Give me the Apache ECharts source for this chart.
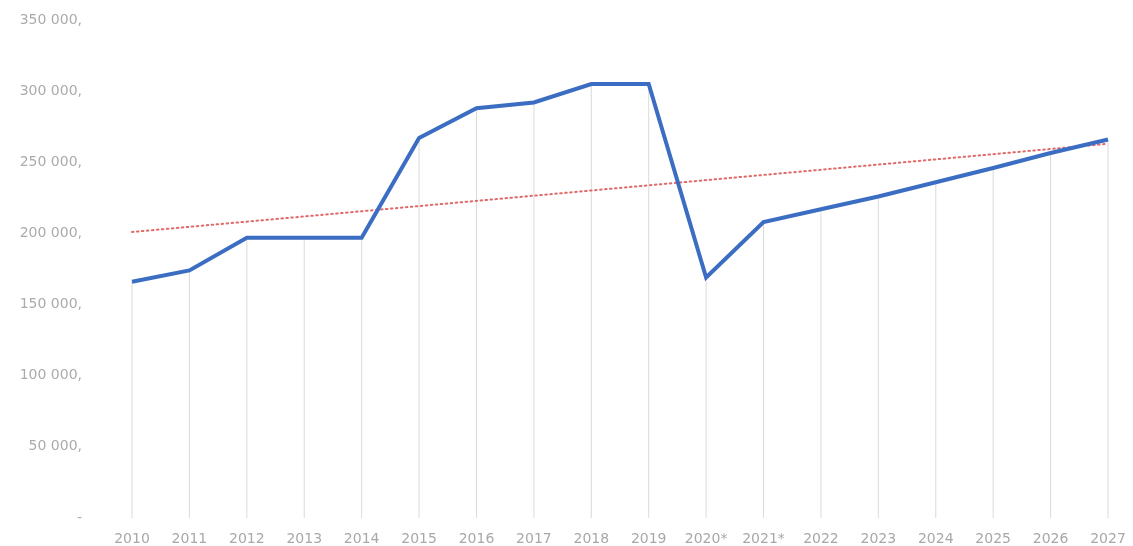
<!DOCTYPE html>
<html>
<head>
<meta charset="utf-8">
<script src="https://cdn.jsdelivr.net/npm/echarts@6/dist/echarts.min.js"></script>
<style>
  html, body { margin: 0; padding: 0; background: #ffffff; }
  #chart { width: 1133px; height: 546px; }
</style>
</head>
<body>
<div id="chart"></div>
<script>
// Years shown along the bottom axis
const years = ['2010', '2011', '2012', '2013', '2014', '2015', '2016', '2017', '2018',
  '2019', '2020*', '2021*', '2022', '2023', '2024', '2025', '2026', '2027'];

// Yearly totals
const totals = [166000, 174000, 197000, 197000, 197000, 267000, 288000, 292000, 305000,
  305000, 169000, 208000, 217000, 226000, 236000, 246000, 256500, 266000];

// Linear trend: value at the first and the last year
const trendStart = 201000;
const trendEnd = 263000;

// Value axis range and step
const yMin = 0;
const yMax = 350000;
const yStep = 50000;

function formatTick(v) {
  if (v === 0) return '-';
  const s = String(v).replace(/\B(?=(\d{3})+(?!\d))/g, ' ');
  return s + ',';
}

const chart = echarts.init(document.getElementById('chart'));
chart.setOption({
  animation: false,
  grid: { left: 132, right: 25, top: 20, bottom: 28 },
  xAxis: {
    type: 'category',
    data: years,
    boundaryGap: false,
    axisLine: { show: false },
    axisTick: { show: false },
    splitLine: { show: false },
    axisLabel: {
      margin: 14,
      color: '#a8a8a8',
      fontFamily: 'DejaVu Sans',
      fontSize: 14,
      interval: 0
    }
  },
  yAxis: {
    type: 'value',
    min: yMin,
    max: yMax,
    interval: yStep,
    axisLine: { show: false },
    axisTick: { show: false },
    splitLine: { show: false },
    axisLabel: {
      margin: 50,
      color: '#ababab',
      fontFamily: 'DejaVu Sans',
      fontSize: 14,
      formatter: formatTick
    }
  },
  series: [
    {
      // thin drop lines from each point down to the axis
      type: 'bar',
      data: totals,
      barWidth: 1,
      itemStyle: { color: '#dadada' },
      silent: true,
      z: 1
    },
    {
      type: 'line',
      data: [[years[0], trendStart], [years[years.length - 1], trendEnd]],
      symbol: 'none',
      lineStyle: { color: '#e06a6a', width: 2, type: [1.5, 3.5], cap: 'round' },
      z: 2
    },
    {
      type: 'line',
      data: totals,
      symbol: 'none',
      lineStyle: { color: '#3b6dc2', width: 4, join: 'miter' },
      z: 3
    }
  ]
});
</script>
</body>
</html>
